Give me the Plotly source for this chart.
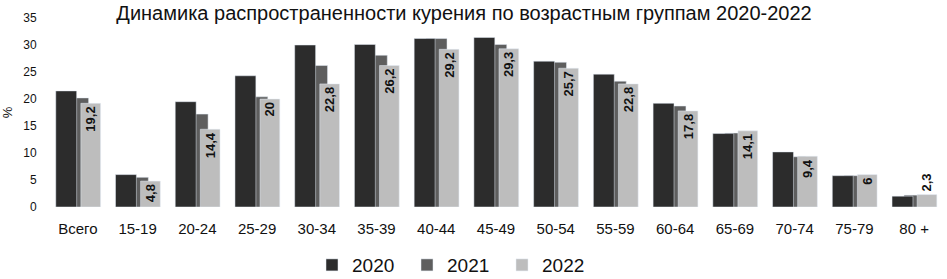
import plotly.graph_objects as go

categories = ["Всего", "15-19", "20-24", "25-29", "30-34", "35-39", "40-44", "45-49",
              "50-54", "55-59", "60-64", "65-69", "70-74", "75-79", "80 +"]
v2020 = [21.5, 6.0, 19.5, 24.3, 30.0, 30.1, 31.2, 31.4, 27.0, 24.6, 19.2, 13.6, 10.2, 5.8, 2.0]
v2021 = [20.2, 5.5, 17.2, 20.4, 26.2, 28.1, 31.2, 30.1, 26.8, 23.3, 18.7, 13.7, 9.3, 5.8, 2.2]
v2022 = [19.2, 4.8, 14.4, 20.0, 22.8, 26.2, 29.2, 29.3, 25.7, 22.8, 17.8, 14.1, 9.4, 6.0, 2.3]
labels2022 = ["19,2", "4,8", "14,4", "20", "22,8", "26,2", "29,2", "29,3", "25,7", "22,8",
              "17,8", "14,1", "9,4", "6", "2,3"]

textpos = ["outside" if v < 4 else "inside" for v in v2022]

W = 0.35
fig = go.Figure()
fig.add_trace(go.Bar(x=categories, y=v2021, name="2021", offset=-0.17, width=W,
                     marker=dict(color="#5e5e5e"), legendrank=2))
fig.add_trace(go.Bar(x=categories, y=v2020, name="2020", offset=-0.37, width=W,
                     marker=dict(color="#2c2c2c"), legendrank=1))
fig.add_trace(go.Bar(x=categories, y=v2022, name="2022", offset=0.05, width=W - 0.02,
                     marker=dict(color="#bdbdbd"), legendrank=3,
                     text=labels2022, textposition=textpos, insidetextanchor="end",
                     textangle=-90, constraintext="none", cliponaxis=False,
                     textfont=dict(family="Liberation Sans, Arial", size=13, color="#111111",
                                   weight="bold")))

fig.update_layout(
    width=947, height=279,
    barmode="overlay",
    paper_bgcolor="white", plot_bgcolor="white",
    margin=dict(l=48, r=3, t=18, b=72, autoexpand=False),
    font=dict(family="Liberation Sans, Arial", color="#111111"),
    title=dict(text="Динамика распространенности курения по возрастным группам 2020-2022",
               x=0.49, xanchor="center", y=0.98, yanchor="top",
               font=dict(size=20, color="#111111")),
    showlegend=True,
    legend=dict(orientation="h", x=(312 - 48) / 896, xanchor="left",
                yref="container", y=0.05, yanchor="middle",
                font=dict(size=19), traceorder="normal", itemwidth=30,
                entrywidth=50, entrywidthmode="pixels"),
    uniformtext=dict(minsize=8, mode="show"),
)
fig.update_yaxes(range=[0, 35], dtick=5, showgrid=False, zeroline=False, showline=False,
                 ticks="outside", ticklen=8, tickcolor="white",
                 tickfont=dict(size=12), title=dict(text="%", font=dict(size=13), standoff=10))
fig.update_xaxes(showgrid=False, showline=False, ticks="outside", ticklen=8, tickcolor="white",
                 tickfont=dict(size=15))

fig.write_html("out.html")
